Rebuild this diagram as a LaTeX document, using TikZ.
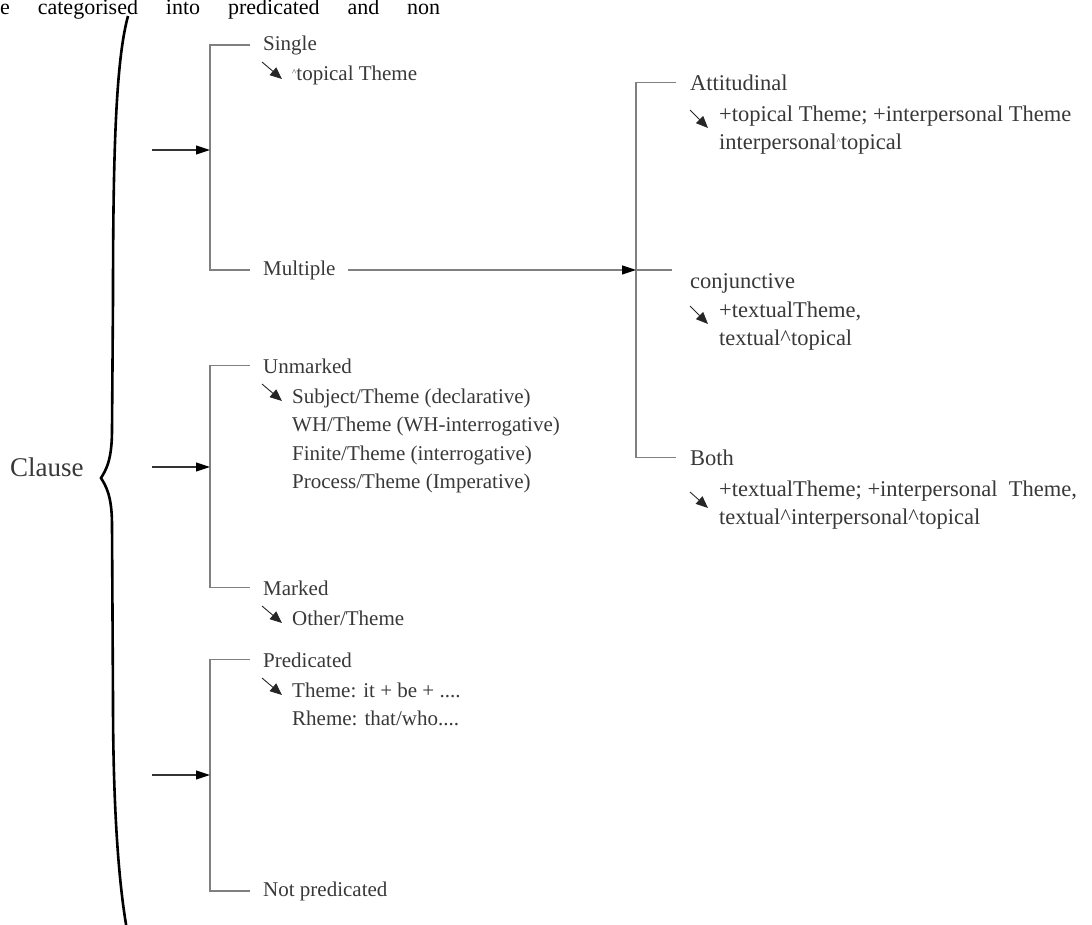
\documentclass[tikz,border=0pt]{standalone}
\usepackage{fontspec}
\setmainfont{Liberation Serif}
\usetikzlibrary{arrows.meta}
\newcommand{\hatmark}{\raisebox{5pt}{\fontsize{9}{9}\selectfont\textasciicircum}}

\begin{document}
\begin{tikzpicture}[x=1pt, y=-1pt,
    every node/.style={inner sep=0pt, text=black!78, font=\fontsize{21}{28.5}\selectfont},
    lab/.style={anchor=base west},
    sub/.style={anchor=north west, align=left},
    wide/.style={font=\fontsize{22.5}{28.5}\selectfont},
    bar/.style={draw=black!50, line width=1.1pt},
    feed/.style={-{Triangle[length=14pt, width=9pt, color=black]}, black!80, line width=1.1pt},
    pick/.style={-{Triangle[length=12pt, width=10pt]}, black!85, line width=0.9pt}
]
\useasboundingbox (0,0) rectangle (1092,924);
\node[lab, text=black, font=\fontsize{22}{26}\selectfont] (topline) at (0,14) {\makebox[440pt][s]{e categorised into predicated and non}};
\node[anchor=west, font=\fontsize{27}{30}\selectfont] (clause) at (10,467) {Clause};
\draw[line width=2.6pt, black] (128,16) .. controls (116,60) and (113,150) .. (113,300) -- (112,430)
    .. controls (112,460) and (106,470) .. (101,478)
    .. controls (106,486) and (112,496) .. (112,525) -- (113,700)
    .. controls (113,800) and (118,880) .. (127,930);

\node[lab] (single) at (263,50) {Single};
\node[sub] (topic) at (292,60) {\strut\hatmark topical Theme};
\node[lab] (multiple) at (263,275) {Multiple};
\node[lab] (unmarked) at (263,373) {Unmarked};
\node[sub] (unmarkedsub) at (292,383) {\strut Subject/Theme (declarative)\\WH/Theme (WH-interrogative)\\Finite/Theme (interrogative)\\Process/Theme (Imperative)};
\node[lab] (marked) at (263,595) {Marked};
\node[sub] (markedsub) at (292,605) {\strut Other/Theme};
\node[lab] (predicated) at (263,667) {Predicated};
\node[sub] (predicatedsub) at (292,677) {\strut Theme: it + be + ....\\Rheme: that/who....};
\node[lab] (notpred) at (263,896) {Not predicated};

\node[lab, wide] (attit) at (690,90) {Attitudinal};
\node[sub, wide] (attitsub) at (719,101) {\strut+topical Theme; +interpersonal Theme\\interpersonal\hatmark topical};
\node[lab, wide] (conj) at (690,288) {conjunctive};
\node[sub, wide] (conjsub) at (719,297) {\strut+textualTheme,\\textual\textasciicircum topical};
\node[lab, wide] (both) at (690,465) {Both};
\node[sub, wide] (bothsub) at (719,476) {\strut+textualTheme; +interpersonal\ \ Theme,\\textual\textasciicircum interpersonal\textasciicircum topical};

\coordinate (v1) at (210,0);
\coordinate (v2) at (636,0);
\coordinate (f1) at (152,150);
\coordinate (f2) at (152,467);
\coordinate (f3) at (152,775);
\draw[bar] ([xshift=-13pt]single.west) -- (single.west -| v1) -- (multiple.west -| v1) -- ([xshift=-13pt]multiple.west);
\draw[bar] ([xshift=-13pt]unmarked.west) -- (unmarked.west -| v1) -- (marked.west -| v1) -- ([xshift=-13pt]marked.west);
\draw[bar] ([xshift=-13pt]predicated.west) -- (predicated.west -| v1) -- (notpred.west -| v1) -- ([xshift=-13pt]notpred.west);
\draw[bar] ([xshift=-14pt]attit.west) -- (attit.west -| v2) -- (both.west -| v2) -- ([xshift=-14pt]both.west);
\draw[feed] (f1) -- (f1 -| v1);
\draw[feed] (f2) -- (f2 -| v1);
\draw[feed] (f3) -- (f3 -| v1);
\draw[feed, black!50] ([xshift=12pt]multiple.east) -- (multiple.east -| v2);
\draw[bar] (multiple.east -| v2) -- ([xshift=-18pt]conj.west |- multiple.east);

\draw[pick] ([shift={(-30,2)}]topic.north west) -- ([shift={(-10,19)}]topic.north west);
\draw[pick] ([shift={(-30,1)}]unmarkedsub.north west) -- ([shift={(-10,18)}]unmarkedsub.north west);
\draw[pick] ([shift={(-30,1)}]markedsub.north west) -- ([shift={(-10,18)}]markedsub.north west);
\draw[pick] ([shift={(-30,1)}]predicatedsub.north west) -- ([shift={(-10,18)}]predicatedsub.north west);
\draw[pick] ([shift={(-29,9)}]attitsub.north west) -- ([shift={(-11,27)}]attitsub.north west);
\draw[pick] ([shift={(-29,9)}]conjsub.north west) -- ([shift={(-11,27)}]conjsub.north west);
\draw[pick] ([shift={(-29,16)}]bothsub.north west) -- ([shift={(-11,32)}]bothsub.north west);
\end{tikzpicture}
\end{document}
